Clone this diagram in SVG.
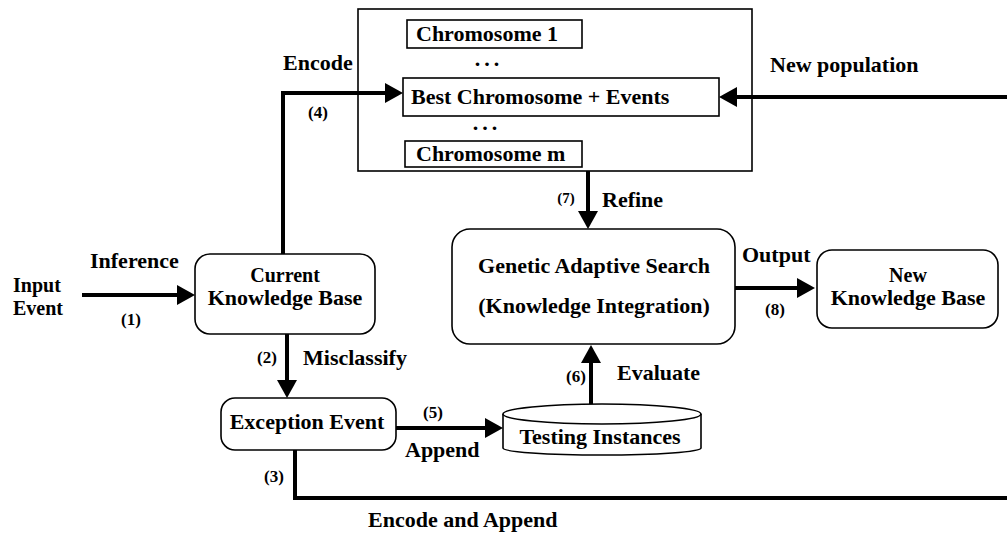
<svg xmlns="http://www.w3.org/2000/svg" width="1007" height="533" viewBox="0 0 1007 533" font-family="'Liberation Serif', 'Times New Roman', 'DejaVu Serif', serif">
<style>
text{font-family:"Liberation Serif","Times New Roman","DejaVu Serif",serif;font-weight:bold;font-size:22px;fill:#000}
.c{text-anchor:middle}
.t{font-size:20px}
.n{font-size:17px}
.s{font-size:15px}
.box{fill:#fff;stroke:#000;stroke-width:1.6}
.con{fill:none;stroke:#000;stroke-width:4}
.dots{letter-spacing:4px}
</style>
<defs>
<marker id="ah" markerUnits="userSpaceOnUse" markerWidth="18" markerHeight="20" refX="3" refY="10" orient="auto">
<path d="M0,0 L18,10 L0,20 Z" fill="#000"/>
</marker>
</defs>
<rect width="1007" height="533" fill="#fff"/>

<g id="population">
<rect class="box" x="358" y="9" width="394" height="162"/>
<g id="chromosome1">
<rect class="box" x="407" y="20" width="175" height="28"/>
<text x="416" y="41">Chromosome 1</text>
</g>
<text class="c dots" x="489" y="66">...</text>
<g id="bestChromosome">
<rect class="box" x="403" y="78" width="316" height="38"/>
<text x="411" y="104">Best Chromosome + Events</text>
</g>
<text class="c dots" x="487" y="130">...</text>
<g id="chromosomeM">
<rect class="box" x="405" y="141" width="177" height="26"/>
<text x="416" y="161">Chromosome m</text>
</g>
</g>

<g id="inputEvent">
<text class="t" x="13" y="292">Input</text>
<text class="t" x="13" y="315">Event</text>
</g>

<g id="currentKB">
<rect class="box" x="195" y="254" width="180" height="80" rx="15"/>
<text class="c t" x="285" y="282">Current</text>
<text class="c" x="285" y="305">Knowledge Base</text>
</g>

<g id="exceptionEvent">
<rect class="box" x="221" y="398" width="175" height="52" rx="14"/>
<text class="c" x="307" y="429">Exception Event</text>
</g>

<g id="testingInstances">
<path class="box" d="M503,414 V448 A99,7 0 0 0 701,448 V414"/>
<ellipse class="box" cx="602" cy="414" rx="99" ry="10"/>
<text class="c" x="600" y="444">Testing Instances</text>
</g>

<g id="geneticSearch">
<rect class="box" x="452" y="229" width="283" height="115" rx="18"/>
<text class="c" x="594" y="273">Genetic Adaptive Search</text>
<text class="c" x="594" y="313">(Knowledge Integration)</text>
</g>

<g id="newKB">
<rect class="box" x="817" y="250" width="181" height="78" rx="15"/>
<text class="c t" x="908" y="282">New</text>
<text class="c" x="908" y="305">Knowledge Base</text>
</g>

<g id="connectors">
<path class="con" d="M82,295 H180" marker-end="url(#ah)"/>
<path class="con" d="M283,254 V93 H388" marker-end="url(#ah)"/>
<path class="con" d="M287,334 V383" marker-end="url(#ah)"/>
<path class="con" d="M396,428 H488" marker-end="url(#ah)"/>
<path class="con" d="M295,450 V498 H1007"/>
<path class="con" d="M1007,97 H734" marker-end="url(#ah)"/>
<path class="con" d="M588,171 V214" marker-end="url(#ah)"/>
<path class="con" d="M591,404 V360" marker-end="url(#ah)"/>
<path class="con" d="M735,288 H800" marker-end="url(#ah)"/>
</g>

<g id="labels">
<text x="90" y="268">Inference</text>
<text class="c n" x="131" y="325">(1)</text>
<text x="283" y="70">Encode</text>
<text class="c n" x="318" y="118">(4)</text>
<text class="c n" x="267" y="363">(2)</text>
<text x="303" y="365">Misclassify</text>
<text class="c n" x="433" y="418">(5)</text>
<text x="405" y="457">Append</text>
<text class="c n" x="274" y="482">(3)</text>
<text x="368" y="527">Encode and Append</text>
<text x="770" y="72">New population</text>
<text class="c s" x="566" y="203">(7)</text>
<text x="602" y="207">Refine</text>
<text class="c n" x="576" y="382">(6)</text>
<text x="617" y="380">Evaluate</text>
<text x="742" y="262">Output</text>
<text class="c n" x="775" y="315">(8)</text>
</g>
</svg>
